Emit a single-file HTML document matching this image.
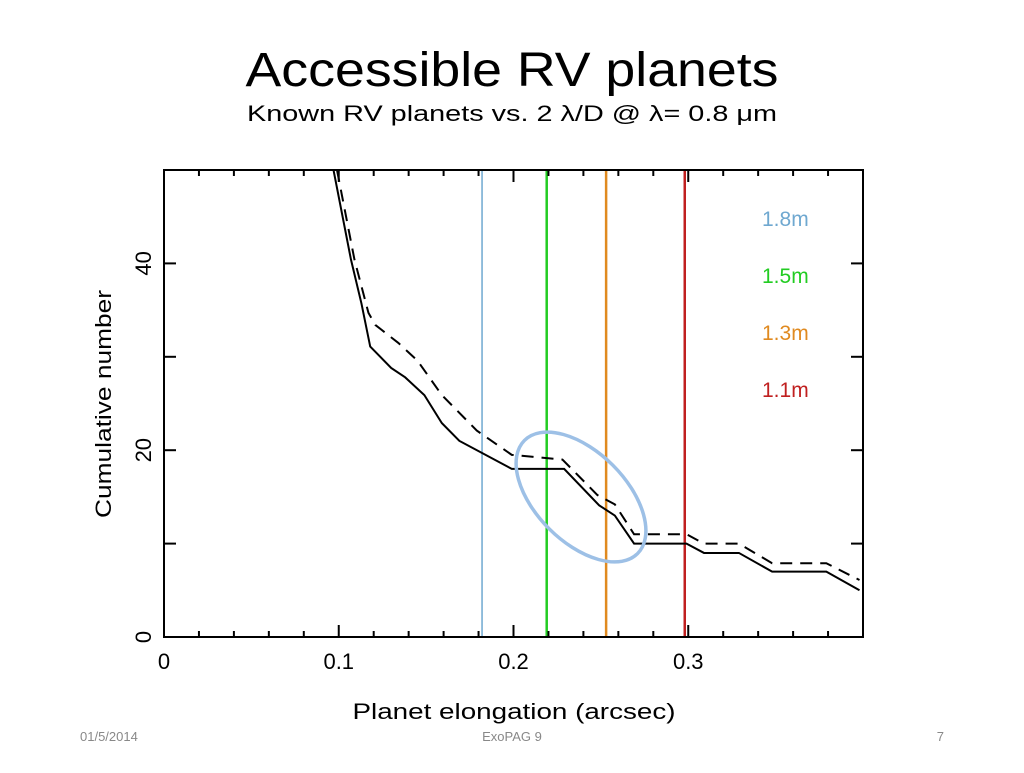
<!DOCTYPE html>
<html><head><meta charset="utf-8"><style>
body{margin:0;background:#fff;width:1024px;height:768px;overflow:hidden;font-family:"Liberation Sans",sans-serif}
</style></head><body>
<svg width="1024" height="768" xmlns="http://www.w3.org/2000/svg">
<text x="512" y="86" text-anchor="middle" font-size="48" fill="#000" textLength="533" lengthAdjust="spacingAndGlyphs">Accessible RV planets</text>
<text x="512" y="121" text-anchor="middle" font-size="22" fill="#000" textLength="530" lengthAdjust="spacingAndGlyphs">Known RV planets vs. 2 λ/D @ λ= 0.8 μm</text>
<g id="plot"></g>
<text x="514" y="719" text-anchor="middle" font-size="22" textLength="323" lengthAdjust="spacingAndGlyphs">Planet elongation (arcsec)</text>
<text transform="translate(111,404) rotate(-90)" text-anchor="middle" font-size="22" textLength="228" lengthAdjust="spacingAndGlyphs">Cumulative number</text>
<text x="80" y="741" font-size="13" fill="#888">01/5/2014</text>
<text x="512" y="741" text-anchor="middle" font-size="13" fill="#888">ExoPAG 9</text>
<text x="944" y="741" text-anchor="end" font-size="13" fill="#888">7</text>
</svg>
<script>
const solidX=[0.097,0.107,0.113,0.118,0.130,0.138,0.149,0.159,0.169,0.199,0.229,0.249,0.258,0.269,0.299,0.309,0.329,0.348,0.379,0.398];
const solidY=[50,40.4,35.7,31.1,28.8,27.8,25.9,22.9,21,18,18,14.1,13,10,10,9,9,7,7,5];
const dashX=[0.099,0.109,0.117,0.121,0.134,0.145,0.159,0.179,0.199,0.228,0.248,0.258,0.269,0.299,0.309,0.329,0.348,0.379,0.398];
const dashY=[50,40.4,34.7,33.4,31.5,29.6,25.9,22.1,19.5,19,15.2,14.2,11,11,10,10,7.9,7.9,6.1];
const apertures=["1.8m","1.5m","1.3m","1.1m"];
const apertureX=[0.182,0.219,0.253,0.298];
const apertureColors=["#6fa8d0","#22cc22","#e08a20","#c02020"];
const xTicks=[0,0.1,0.2,0.3];
const xTickLabels=["0","0.1","0.2","0.3"];
const yTicks=[0,20,40];
const yTickLabels=["0","20","40"];
const X0=164,X1=863,Y0=637,Y1=170,XMAX=0.4,YMAX=50;
const sx=v=>X0+v/XMAX*(X1-X0);
const sy=v=>Y0-v/YMAX*(Y0-Y1);
const NS="http://www.w3.org/2000/svg";
const g=document.getElementById('plot');
function mk(t,a){const e=document.createElementNS(NS,t);for(const k in a)e.setAttribute(k,a[k]);g.appendChild(e);return e;}
const defs=mk('defs',{});
const cp=document.createElementNS(NS,'clipPath');cp.setAttribute('id','c');
const cr=document.createElementNS(NS,'rect');cr.setAttribute('x',X0);cr.setAttribute('y',Y1);cr.setAttribute('width',X1-X0);cr.setAttribute('height',Y0-Y1);
cp.appendChild(cr);defs.appendChild(cp);
apertureX.forEach((v,i)=>{
 const l=mk('line',{x1:sx(v),x2:sx(v),y1:Y1,y2:Y0,stroke:apertureColors[i],'stroke-width':i==0?1.5:2.5});
 
 
 const t=mk('text',{x:762,y:226+i*57,'font-size':21,fill:apertureColors[i]});
 t.textContent=apertures[i];
 
 
});
const ps=mk('polyline',{points:solidX.map((v,i)=>sx(v)+','+sy(solidY[i])).join(' '),fill:'none',stroke:'#000','stroke-width':2,'clip-path':'url(#c)'});


const pd=mk('polyline',{points:dashX.map((v,i)=>sx(v)+','+sy(dashY[i])).join(' '),fill:'none',stroke:'#000','stroke-width':2,'stroke-dasharray':'12,8','clip-path':'url(#c)'});


const el=mk('ellipse',{cx:581,cy:497,rx:80,ry:45,transform:'rotate(45 581 497)',fill:'none',stroke:'#9dc0e6','stroke-width':3.5});


const fr=mk('rect',{x:X0,y:Y1,width:X1-X0,height:Y0-Y1,fill:'none',stroke:'#000','stroke-width':2});


for(let k=0;k<=20;k++){const v=k*0.02,x=sx(v),len=(k%5==0)?12:6;
 mk('line',{x1:x,x2:x,y1:Y0,y2:Y0-len,stroke:'#000','stroke-width':2});
 mk('line',{x1:x,x2:x,y1:Y1,y2:Y1+len,stroke:'#000','stroke-width':2});}
for(let k=0;k<=5;k++){const y=sy(k*10);
 mk('line',{x1:X0,x2:X0+12,y1:y,y2:y,stroke:'#000','stroke-width':2});
 mk('line',{x1:X1,x2:X1-12,y1:y,y2:y,stroke:'#000','stroke-width':2});}
xTicks.forEach((v,i)=>{const t=mk('text',{x:sx(v),y:669,'text-anchor':'middle','font-size':22});t.textContent=xTickLabels[i];
 
 });
yTicks.forEach((v,i)=>{const y=sy(v);const t=mk('text',{transform:`translate(151,${y}) rotate(-90)`,'text-anchor':'middle','font-size':22});t.textContent=yTickLabels[i];
 
 });
</script>
</body></html>
